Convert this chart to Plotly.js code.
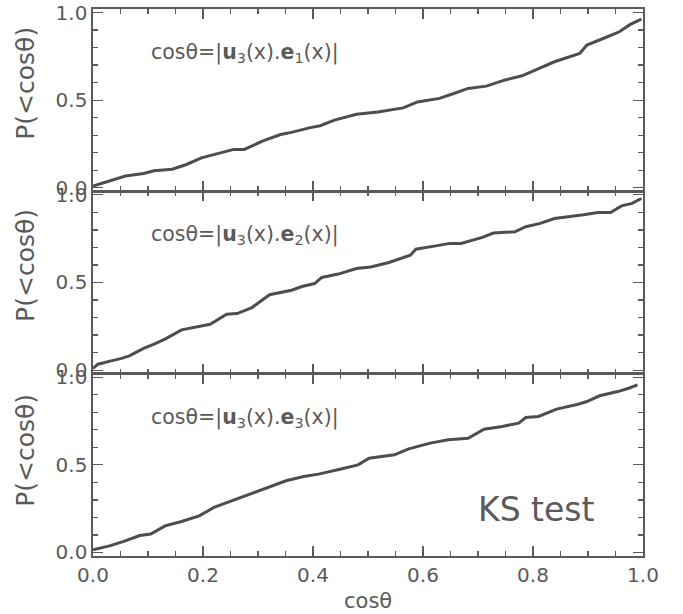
<!DOCTYPE html>
<html>
<head>
<meta charset="utf-8">
<script src="https://cdn.plot.ly/plotly-3.0.1.min.js"></script>
<style>
html,body{margin:0;padding:0;background:#fff;}
#chart{width:683px;height:614px;}
</style>
</head>
<body>
<div id="chart"></div>
<script>
// Panel 1: cos(theta) = |u3(x).e1(x)|
var cos1 = [0, 0.033, 0.059, 0.092, 0.111, 0.144, 0.170, 0.197, 0.230, 0.256, 0.275, 0.308, 0.341, 0.361, 0.393, 0.413, 0.439, 0.479, 0.518, 0.564, 0.590, 0.630, 0.656, 0.682, 0.715, 0.748, 0.780, 0.807, 0.839, 0.885, 0.898, 0.931, 0.957, 0.977, 0.997];
var p1   = [0.010, 0.044, 0.067, 0.082, 0.097, 0.106, 0.133, 0.171, 0.200, 0.219, 0.219, 0.266, 0.304, 0.316, 0.342, 0.354, 0.386, 0.420, 0.433, 0.456, 0.490, 0.510, 0.538, 0.567, 0.580, 0.614, 0.639, 0.677, 0.719, 0.766, 0.814, 0.856, 0.890, 0.932, 0.962];
// Panel 2: cos(theta) = |u3(x).e2(x)|
var cos2 = [0, 0.009, 0.033, 0.052, 0.066, 0.092, 0.111, 0.131, 0.161, 0.190, 0.213, 0.243, 0.262, 0.289, 0.321, 0.361, 0.380, 0.403, 0.416, 0.446, 0.479, 0.505, 0.538, 0.577, 0.587, 0.623, 0.649, 0.669, 0.708, 0.728, 0.767, 0.787, 0.813, 0.839, 0.866, 0.892, 0.918, 0.941, 0.961, 0.980, 0.997];
var p2   = [0.010, 0.034, 0.053, 0.067, 0.082, 0.124, 0.148, 0.177, 0.230, 0.249, 0.262, 0.319, 0.323, 0.357, 0.430, 0.456, 0.477, 0.494, 0.529, 0.548, 0.580, 0.589, 0.614, 0.656, 0.690, 0.709, 0.723, 0.723, 0.757, 0.782, 0.789, 0.818, 0.837, 0.865, 0.875, 0.886, 0.899, 0.899, 0.937, 0.951, 0.979];
// Panel 3: cos(theta) = |u3(x).e3(x)|
var cos3 = [0, 0.030, 0.056, 0.085, 0.105, 0.131, 0.161, 0.193, 0.220, 0.252, 0.285, 0.318, 0.351, 0.383, 0.410, 0.449, 0.482, 0.502, 0.548, 0.574, 0.613, 0.646, 0.682, 0.711, 0.744, 0.774, 0.787, 0.810, 0.843, 0.882, 0.898, 0.921, 0.954, 0.974, 0.990];
var p3   = [0.015, 0.038, 0.063, 0.097, 0.105, 0.152, 0.177, 0.209, 0.257, 0.295, 0.335, 0.371, 0.409, 0.433, 0.447, 0.475, 0.500, 0.538, 0.557, 0.591, 0.624, 0.643, 0.652, 0.703, 0.719, 0.738, 0.770, 0.776, 0.818, 0.846, 0.861, 0.894, 0.918, 0.937, 0.956];

var xTicks = [0, 0.2, 0.4, 0.6, 0.8, 1.0];
var yTicks = [0, 0.5, 1.0];
var panelLabels = [
  'cos\u03B8=|<b>u</b><sub>3</sub>(x).<b>e</b><sub>1</sub>(x)|',
  'cos\u03B8=|<b>u</b><sub>3</sub>(x).<b>e</b><sub>2</sub>(x)|',
  'cos\u03B8=|<b>u</b><sub>3</sub>(x).<b>e</b><sub>3</sub>(x)|'
];
var yTitle = 'P(&lt;cos\u03B8)';
var xTitle = 'cos\u03B8';
var testLabel = 'KS test';

var ink = '#5a5a5a';
var lineInk = '#4d4d4d';
var fam = 'DejaVu Sans, sans-serif';

function trace(x, y, xa, ya) {
  return {x: x, y: y, xaxis: xa, yaxis: ya, type: 'scatter', mode: 'lines',
          line: {color: lineInk, width: 3}, hoverinfo: 'skip', showlegend: false};
}

function xAxis(anchor, showLabels) {
  return {
    range: [0, 1], anchor: anchor, domain: [0, 1],
    tickvals: xTicks, tickformat: '.1f', showticklabels: showLabels,
    ticks: 'inside', ticklen: 10, tickwidth: 1.3, tickcolor: ink,
    minor: {dtick: 0.05, tick0: 0, ticks: 'inside', ticklen: 5, tickwidth: 1.3, tickcolor: ink, showgrid: false},
    showline: true, linecolor: ink, linewidth: 1.6, mirror: 'ticks',
    showgrid: false, zeroline: false,
    tickfont: {family: fam, size: 20, color: ink}
  };
}
function yAxis(anchor, dom) {
  return {
    range: [-0.02, 1.02], anchor: anchor, domain: dom,
    tickvals: yTicks, tickformat: '.1f',
    ticks: 'inside', ticklen: 10, tickwidth: 1.3, tickcolor: ink,
    minor: {dtick: 0.1, tick0: 0, ticks: 'inside', ticklen: 5, tickwidth: 1.3, tickcolor: ink, showgrid: false},
    showline: true, linecolor: ink, linewidth: 1.6, mirror: 'ticks',
    showgrid: false, zeroline: false,
    tickfont: {family: fam, size: 20, color: ink}
  };
}

var data = [
  trace(cos1, p1, 'x', 'y'),
  trace(cos2, p2, 'x2', 'y2'),
  trace(cos3, p3, 'x3', 'y3')
];

var annotations = [];
var yrefs = ['y', 'y2', 'y3'];
var xrefs = ['x', 'x2', 'x3'];
for (var i = 0; i < 3; i++) {
  annotations.push({xref: xrefs[i], yref: yrefs[i], x: 0.102, y: 0.77, xanchor: 'left', yanchor: 'middle',
    text: panelLabels[i], showarrow: false, font: {family: fam, size: 20.5, color: ink}});
}
var titleY = [0.865, 0.532, 0.194];
for (var j = 0; j < 3; j++) {
  annotations.push({xref: 'paper', yref: 'paper', x: -0.122, y: titleY[j], xanchor: 'center', yanchor: 'middle',
    text: yTitle, textangle: -90, showarrow: false, font: {family: fam, size: 25, color: ink}});
}
annotations.push({xref: 'paper', yref: 'paper', x: 0.5, y: -0.082, xanchor: 'center', yanchor: 'middle',
  text: xTitle, showarrow: false, font: {family: fam, size: 21, color: ink}});
annotations.push({xref: 'x3', yref: 'y3', x: 0.697, y: 0.243, xanchor: 'left', yanchor: 'middle',
  text: testLabel, showarrow: false, font: {family: fam, size: 33, color: ink}});

var layout = {
  width: 683, height: 614,
  margin: {l: 93, r: 40, t: 9, b: 58},
  paper_bgcolor: '#ffffff', plot_bgcolor: '#ffffff',
  xaxis: xAxis('y', false),
  xaxis2: xAxis('y2', false),
  xaxis3: xAxis('y3', true),
  yaxis: yAxis('x', [0.6667, 1]),
  yaxis2: yAxis('x2', [0.3333, 0.6667]),
  yaxis3: yAxis('x3', [0, 0.3333]),
  annotations: annotations,
  showlegend: false
};

Plotly.newPlot('chart', data, layout, {displayModeBar: false, staticPlot: true});
</script>
</body>
</html>
